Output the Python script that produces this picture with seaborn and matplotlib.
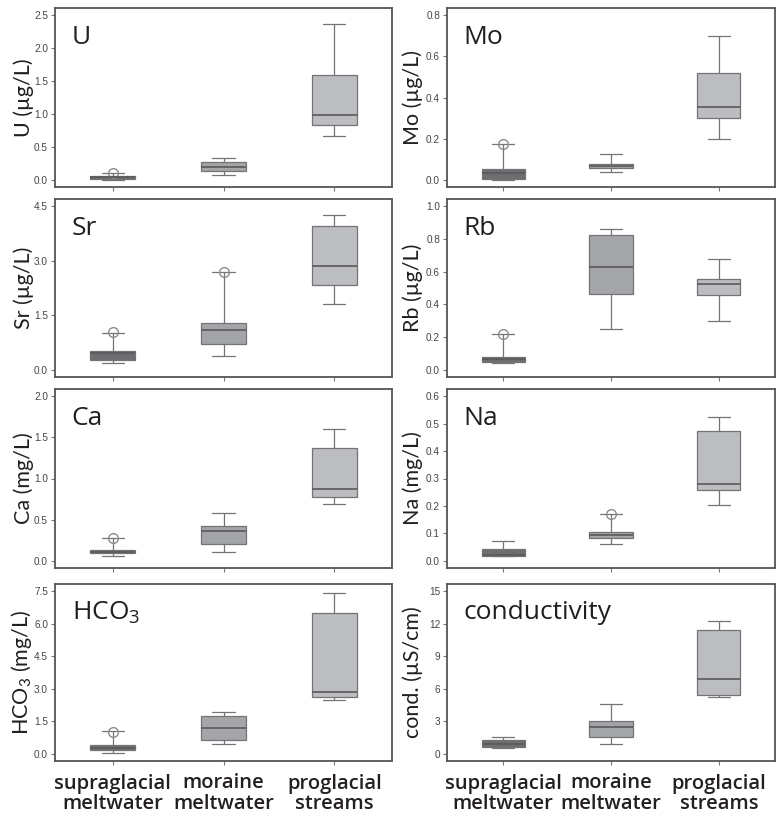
import numpy as np
import pandas as pd
import seaborn as sns
import matplotlib.pyplot as plt

# Box summaries per group: [whisker low, Q1, median, Q3, whisker high]
groups = ["supraglacial\nmeltwater", "moraine\nmeltwater", "proglacial\nstreams"]

u_box = [[0.0, 0.015, 0.035, 0.05, 0.10], [0.07, 0.13, 0.19, 0.27, 0.335], [0.67, 0.83, 0.99, 1.59, 2.37]]
u_out = [0.10, None, None]

mo_box = [[0.0, 0.004, 0.03, 0.052, 0.174], [0.039, 0.055, 0.065, 0.076, 0.125], [0.198, 0.30, 0.353, 0.52, 0.70]]
mo_out = [0.175, None, None]

sr_box = [[0.17, 0.27, 0.45, 0.52, 1.02], [0.37, 0.72, 1.09, 1.28, 2.69], [1.82, 2.33, 2.85, 3.97, 4.25]]
sr_out = [1.04, 2.69, None]

rb_box = [[0.039, 0.047, 0.063, 0.079, 0.217], [0.246, 0.465, 0.626, 0.823, 0.864], [0.297, 0.457, 0.522, 0.553, 0.677]]
rb_out = [0.217, None, None]

ca_box = [[0.053, 0.089, 0.11, 0.126, 0.27], [0.105, 0.203, 0.361, 0.418, 0.584], [0.694, 0.775, 0.868, 1.371, 1.598]]
ca_out = [0.27, None, None]

na_box = [[0.017, 0.017, 0.02, 0.043, 0.071], [0.061, 0.084, 0.094, 0.104, 0.17], [0.203, 0.257, 0.281, 0.472, 0.523]]
na_out = [None, 0.17, None]

hco3_box = [[0.05, 0.15, 0.28, 0.40, 1.04], [0.44, 0.64, 1.19, 1.745, 1.91], [2.48, 2.60, 2.83, 6.505, 7.42]]
hco3_out = [1.0, None, None]

cond_box = [[0.52, 0.64, 0.85, 1.25, 1.52], [0.91, 1.52, 2.46, 2.98, 4.59], [5.2, 5.38, 6.91, 11.44, 12.23]]
cond_out = [None, None, None]

panels = [
    ("U", "U (µg/L)", u_box, u_out, [0, 0.5, 1.0, 1.5, 2.0, 2.5], "{:.1f}"),
    ("Mo", "Mo (µg/L)", mo_box, mo_out, [0, 0.2, 0.4, 0.6, 0.8], "{:.1f}"),
    ("Sr", "Sr (µg/L)", sr_box, sr_out, [0, 1.5, 3.0, 4.5], "{:.1f}"),
    ("Rb", "Rb (µg/L)", rb_box, rb_out, [0, 0.2, 0.4, 0.6, 0.8, 1.0], "{:.1f}"),
    ("Ca", "Ca (mg/L)", ca_box, ca_out, [0, 0.5, 1.0, 1.5, 2.0], "{:.1f}"),
    ("Na", "Na (mg/L)", na_box, na_out, [0, 0.1, 0.2, 0.3, 0.4, 0.5, 0.6], "{:.1f}"),
    ("HCO$_\\mathregular{3}$", "HCO$_\\mathregular{3}$ (mg/L)", hco3_box, hco3_out, [0, 1.5, 3.0, 4.5, 6.0, 7.5], "{:.1f}"),
    ("conductivity", "cond. (µS/cm)", cond_box, cond_out, [0, 3, 6, 9, 12, 15], "{:.0f}"),
]

palette = ["#6d6e71", "#a4a5a8", "#bcbdc0"]

sns.set_theme(style="ticks")
plt.rcParams["font.family"] = ["Open Sans", "DejaVu Sans"]
plt.rcParams["mathtext.fontset"] = "custom"
plt.rcParams["mathtext.rm"] = "Open Sans"

fig = plt.figure(figsize=(7.81, 8.16), dpi=100)
W, H = 781, 816
cols = [(55, 392), (447, 775)]
rows = [(8, 187), (199, 377), (389, 568), (584, 761)]
label_x = [-0.062, -0.072]

for i, (name, ylabel, box, out, ticks, fmt) in enumerate(panels):
    r, c = divmod(i, 2)
    x0, x1 = cols[c]
    y0, y1 = rows[r]
    ax = fig.add_axes([x0 / W, 1 - y1 / H, (x1 - x0) / W, (y1 - y0) / H])

    df = pd.DataFrame({
        "group": np.repeat(groups, 5),
        "value": np.concatenate(box),
    })
    sns.boxplot(data=df, x="group", y="value", hue="group", palette=palette,
                order=groups, hue_order=groups, legend=False, width=0.4,
                whis=(0, 100), linecolor="#747474", linewidth=0.9,
                saturation=1, ax=ax,
                medianprops={"color": "#5a5a5a", "linewidth": 1.2})
    for k, v in enumerate(out):
        if v is not None:
            ax.plot(k, v, "o", mfc="none", mec="#8c8c8c", ms=7, mew=1.0)

    span = ticks[-1] - ticks[0]
    ax.set_ylim(ticks[0] - 0.045 * span, ticks[-1] + 0.045 * span)
    ax.set_xlim(-0.52, 2.52)
    ax.set_yticks(ticks)
    ax.set_yticklabels([fmt.format(t) for t in ticks], fontsize=7.2,
                       color="#444444", family="Liberation Sans")
    ax.tick_params(axis="both", length=3, width=0.8, color="#777777", pad=2)
    ax.set_xlabel("")
    ax.set_ylabel(ylabel, fontsize=15.5, color="#231f20", family=["Lato", "DejaVu Sans"])
    ax.yaxis.set_label_coords(label_x[c], 0.5)
    if r < 3:
        ax.set_xticklabels([])
    else:
        ax.set_xticks(range(3))
        ax.set_xticklabels(groups, fontsize=14.5, fontweight=600, color="#231f20",
                           linespacing=1.05)
        ax.tick_params(axis="x", pad=6)
    for s in ax.spines.values():
        s.set_color("#555555")
        s.set_linewidth(1.3)
    ax.text(0.05, 0.80, name, transform=ax.transAxes, fontsize=19,
            color="#231f20", va="baseline", ha="left")

fig.savefig("out.png", dpi=100)
